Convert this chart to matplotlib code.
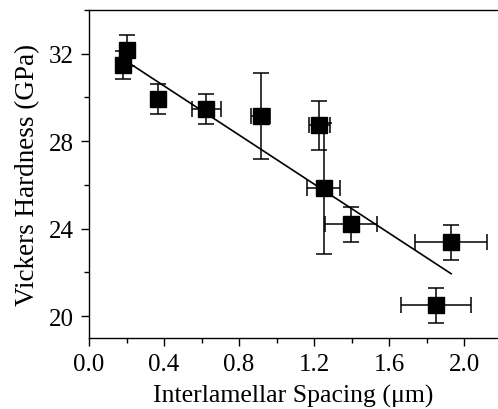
import numpy as np
import matplotlib
matplotlib.use("Agg")
import matplotlib.pyplot as plt
from matplotlib.ticker import MultipleLocator

plt.rcParams['font.family'] = ['Liberation Serif', 'DejaVu Serif']

# interlamellar spacing (um) and Vickers hardness (GPa)
spacing = [0.181, 0.202, 0.369, 0.625, 0.915, 1.227, 1.250, 1.397, 1.929, 1.850]
hardness = [31.49, 32.15, 29.94, 29.48, 29.16, 28.72, 25.84, 24.20, 23.38, 20.50]
spacing_err = [0.03, 0.02, 0.0, 0.078, 0.05, 0.057, 0.087, 0.14, 0.19, 0.185]
hardness_err = [0.64, 0.72, 0.69, 0.69, 1.98, 1.14, 2.99, 0.80, 0.80, 0.80]

# linear fit line end points
fit_x = [0.20, 1.93]
fit_y = [31.65, 21.94]

fig = plt.figure(figsize=(4.98, 4.10), dpi=100)
ax = fig.add_axes([0.1787, 0.1732, 0.8213, 0.800])

ax.plot(fit_x, fit_y, color='black', lw=1.2, zorder=2)
ax.errorbar(spacing, hardness, xerr=spacing_err, yerr=hardness_err,
            fmt='s', color='black', ms=11.5, elinewidth=1.1, capsize=5.5,
            capthick=1.1, zorder=3)

ax.set_xlim(0, 2.18)
ax.set_ylim(19, 34)
ax.xaxis.set_major_locator(MultipleLocator(0.4))
ax.xaxis.set_minor_locator(MultipleLocator(0.2))
ax.yaxis.set_major_locator(MultipleLocator(4))
ax.yaxis.set_minor_locator(MultipleLocator(2))
ax.xaxis.set_major_formatter(matplotlib.ticker.FormatStrFormatter('%.1f'))
ax.tick_params(which='major', direction='out', length=6, width=1, labelsize=18, pad=5)
ax.tick_params(which='minor', direction='out', length=3.5, width=1)
ax.spines['right'].set_visible(False)
for s in ['left', 'bottom', 'top']:
    ax.spines[s].set_linewidth(1)

ax.set_xlabel('Interlamellar Spacing (μm)', fontsize=18.5, labelpad=6)
ax.set_ylabel('Vickers Hardness (GPa)', fontsize=19.5, labelpad=6)

fig.savefig('out.png', dpi=100)
